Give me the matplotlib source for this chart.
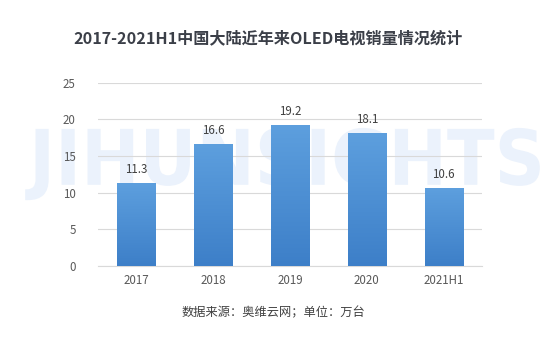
import matplotlib
matplotlib.use('Agg')
import matplotlib.pyplot as plt
import numpy as np
from matplotlib.textpath import TextPath
from matplotlib.font_manager import FontProperties
from matplotlib.patches import PathPatch
from matplotlib.transforms import Affine2D

plt.rcParams['font.family'] = ['Noto Sans CJK SC', 'DejaVu Sans']

# data
years = ['2017', '2018', '2019', '2020', '2021H1']
sales = [11.3, 16.6, 19.2, 18.1, 10.6]
yticks = [0, 5, 10, 15, 20, 25]

title = '2017-2021H1中国大陆近年来OLED电视销量情况统计'
source = '数据来源：奥维云网；单位：万台'

fig = plt.figure(figsize=(5.6, 3.41), dpi=100)
fig.patch.set_facecolor('white')

ax = fig.add_axes([0.175, 0.22, 0.686, 0.537])
ax.patch.set_alpha(0)

# watermark, stretched to fill its box (figure fraction)
tp = TextPath((0, 0), 'JIHUNSIGHTS', size=1,
              prop=FontProperties(family='DejaVu Sans', weight='bold'))
ext = tp.get_extents()
wx0, wx1, wy0, wy1 = 0.045, 0.964, 0.413, 0.625
tr = (Affine2D().translate(-ext.x0, -ext.y0)
      .scale((wx1 - wx0) / ext.width, (wy1 - wy0) / ext.height)
      .translate(wx0, wy0) + fig.transFigure)
ax.add_patch(PathPatch(tp, transform=tr, facecolor='#ebf2fc', edgecolor='none',
                       zorder=0.5, clip_on=False))

x = np.arange(len(years))
bars = ax.bar(x, sales, width=0.5, color='#4a8dd6', zorder=3)

# gradient fill in the bars
grad = np.linspace(0, 1, 256).reshape(-1, 1)
cmap = matplotlib.colors.LinearSegmentedColormap.from_list('b', ['#3d7fc8', '#5d9fde'])
for b in bars:
    im = ax.imshow(grad, cmap=cmap, aspect='auto', origin='lower', zorder=4,
                   extent=[b.get_x(), b.get_x() + b.get_width(), 0, b.get_height()])
    im.set_clip_path(b)

for xi, v in zip(x, sales):
    ax.annotate(f'{v}', (xi, v), xytext=(0, 5), textcoords='offset points',
                ha='center', va='bottom', fontsize=8.3, color='#404040', zorder=5)

ax.set_xlim(-0.5, len(years) - 0.5)
ax.set_ylim(0, 25)
ax.set_yticks(yticks)
ax.set_xticks(x)
ax.set_xticklabels(years)
ax.tick_params(axis='both', length=0, labelsize=8.3, labelcolor='#595959')
ax.tick_params(axis='y', pad=16)
ax.tick_params(axis='x', pad=6)
ax.grid(axis='y', color='#d9d9d9', linewidth=0.8, zorder=1)
ax.set_axisbelow(True)
for s in ['top', 'right', 'left']:
    ax.spines[s].set_visible(False)
ax.spines['bottom'].set_color('#d9d9d9')
ax.spines['bottom'].set_linewidth(0.8)

fig.text(0.478, 0.888, title, fontsize=11.6, fontweight='bold', color='#3b3f48',
         ha='center', va='center')
fig.text(0.488, 0.083, source, fontsize=8.8, color='#404040', ha='center', va='center')

fig.savefig('out.png', dpi=100)
